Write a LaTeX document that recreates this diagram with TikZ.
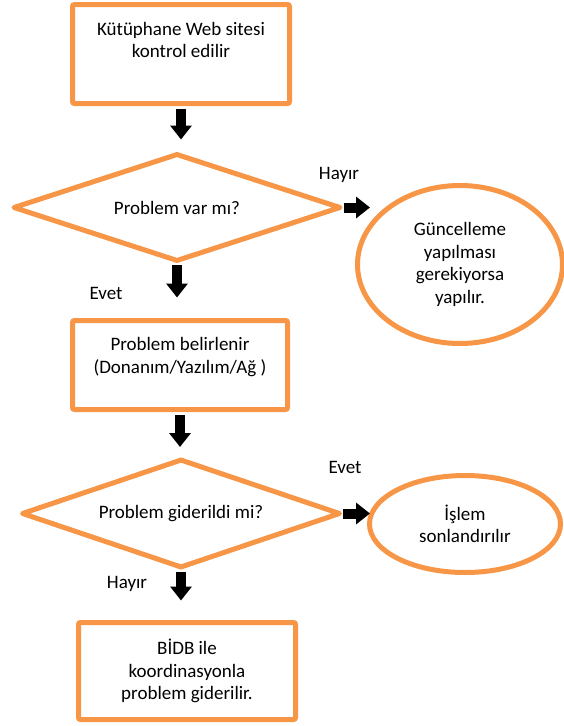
\documentclass[tikz,border=0pt]{standalone}
\usepackage{fontspec}
\setmainfont{Carlito}
\usetikzlibrary{shapes.geometric,arrows.meta}
\definecolor{org}{RGB}{247,150,70}
\begin{document}
\begin{tikzpicture}[x=1pt,y=-1pt,
 every node/.style={font=\fontsize{19}{22.5}\selectfont},
 box/.style={draw=org,line width=5pt,rectangle,rounded corners=2pt,inner sep=0pt},
 dia/.style={draw=org,line width=5pt,diamond,aspect=3,inner sep=0pt,line join=round},
 ell/.style={draw=org,line width=5pt,ellipse,inner sep=0pt,align=center},
 txt/.style={align=center,inner sep=0pt},
 barrow/.style={line width=10pt,-{Triangle[width=21pt,length=14pt]}}]
\useasboundingbox (0,0) rectangle (563,726);
% boxes
\node[box,minimum width=217pt,minimum height=99pt] (b1) at (181,54) {};
\node[txt] (b1t) at (181,40) {Kütüphane Web sitesi\\kontrol edilir};
\node[dia,minimum width=328pt,minimum height=108pt] (d1) at (177,207.5) {Problem var mı?};
\node[ell,minimum width=205pt,minimum height=158pt] (e1) at (460,264.5) {Güncelleme\\yapılması\\gerekiyorsa\\yapılır.};
\node[box,minimum width=215pt,minimum height=89pt] (b2) at (180,365) {};
\node[txt] (b2t) at (180,357) {Problem belirlenir\\(Donanım/Yazılım/Ağ )};
\node[dia,minimum width=319pt,minimum height=109pt] (d2) at (181,513.5) {Problem giderildi mi?};
\node[ell,minimum width=191pt,minimum height=97pt] (e2) at (465,524) {İşlem\\sonlandırılır};
\node[box,minimum width=217pt,minimum height=97pt,align=center] (b3) at (187,671) {BİDB ile\\koordinasyonla\\problem giderilir.};
% labels
\node (l1) at (339,175) {Hayır};
\node (l2) at (106,293) {Evet};
\node (l3) at (345,467) {Evet};
\node (l4) at (127,584) {Hayır};
% arrows
\coordinate (h1) at (370,207.5);
\coordinate (h2) at (370,513.5);
\draw[barrow,shorten <=2.5pt,shorten >=11.5pt] (b1.south) -- (b1.south |- d1.north);
\draw[barrow,shorten <=1pt,shorten >=20.5pt] (d1.south) -- (d1.south |- b2.north);
\draw[barrow,shorten <=3pt,shorten >=9.5pt] (b2.south) -- (b2.south |- d2.north);
\draw[barrow,shorten <=1pt,shorten >=19.5pt] (d2.south) -- (d2.south |- b3.north);
\draw[barrow] (d1.east) -- (h1);
\draw[barrow] (d2.east) -- (h2);
\end{tikzpicture}
\end{document}
